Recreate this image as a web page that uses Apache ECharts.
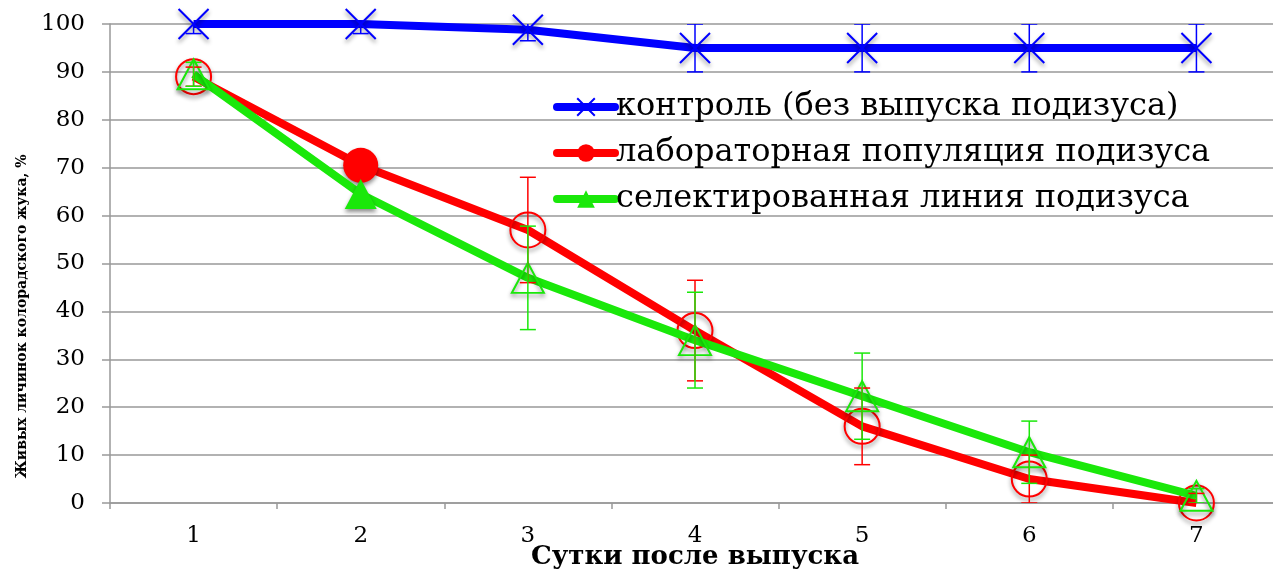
<!DOCTYPE html>
<html>
<head>
<meta charset="utf-8">
<script src="https://cdn.jsdelivr.net/npm/echarts@6/dist/echarts.min.js"></script>
<style>
  html, body { margin: 0; padding: 0; background: #fff; }
  #chart { width: 1273px; height: 573px; }
</style>
</head>
<body>
<div id="chart"></div>
<script>
// data
const days = ['1', '2', '3', '4', '5', '6', '7']
const seriesNames = [
  'контроль (без выпуска подизуса)',
  'лабораторная популяция подизуса',
  'селектированная линия подизуса'
]
const control = [100, 100, 98.8, 95, 95, 95, 95]
const controlErr = [2, 2, 2.3, 5, 5, 5, 5]
const lab = [89, 70.5, 57, 36, 16, 5, 0]
const labErr = [2, 0, 11, 10.5, 8, 5, 2]
const selected = [89.5, 64.5, 47, 34, 22.3, 10.6, 1.5]
const selectedErr = [2.5, 0, 10.8, 10, 9, 6.5, 1.5]
const filledPoint = 1 // only day 2 keeps the solid marker

const serif = 'DejaVu Serif'
const BLUE = '#0000ff'
const RED = '#ff0000'
const GREEN = '#1ae80a'

const markerShadow = {
  shadowColor: 'rgba(0,0,0,0.45)',
  shadowBlur: 4,
  shadowOffsetY: 3
}

function pointsWithHollow(values, color) {
  return values.map((v, i) => {
    if (i === filledPoint) return v
    return {
      value: v,
      itemStyle: { color: 'rgba(255,255,255,0)', borderColor: color, borderWidth: 2 }
    }
  })
}

function errorBars(name, values, errs, color) {
  return {
    type: 'custom',
    name: name + ' err',
    z: 5,
    clip: true,
    silent: true,
    data: values.map((v, i) => [i, v, errs[i]]),
    renderItem(params, api) {
      const e = api.value(2)
      if (!e) return
      const x = api.value(0)
      const y = api.value(1)
      const hi = api.coord([x, y + e])
      const lo = api.coord([x, y - e])
      const w = 8
      const style = { stroke: color, lineWidth: 1.5 }
      return {
        type: 'group',
        children: [
          { type: 'line', shape: { x1: hi[0], y1: hi[1], x2: lo[0], y2: lo[1] }, style },
          { type: 'line', shape: { x1: hi[0] - w, y1: hi[1], x2: hi[0] + w, y2: hi[1] }, style },
          { type: 'line', shape: { x1: lo[0] - w, y1: lo[1], x2: lo[0] + w, y2: lo[1] }, style }
        ]
      }
    }
  }
}

const chart = echarts.init(document.getElementById('chart'))
chart.setOption({
  animation: false,
  backgroundColor: '#fff',
  grid: { left: 110, right: -7, top: 24, bottom: 70, outerBoundsMode: 'none', containLabel: false },
  legend: {
    orient: 'vertical',
    left: 548,
    top: 86,
    itemWidth: 58,
    itemHeight: 22,
    itemGap: 14,
    lineStyle: { width: 8, cap: 'round' },
    textStyle: { fontFamily: serif, fontSize: 32, color: '#000', padding: [0, 0, 0, -4] },
    data: seriesNames
  },
  xAxis: {
    type: 'category',
    data: days,
    boundaryGap: true,
    name: 'Сутки после выпуска',
    nameLocation: 'middle',
    nameGap: 41,
    nameMoveOverlap: false,
    nameTextStyle: { fontFamily: serif, fontWeight: 'bold', fontSize: 26, color: '#000' },
    axisLine: { lineStyle: { color: '#999', width: 1.5 } },
    axisTick: { show: true, length: 6, lineStyle: { color: '#999', width: 1.5 } },
    axisLabel: { fontFamily: serif, fontSize: 23, color: '#000', margin: 22 }
  },
  yAxis: {
    type: 'value',
    min: 0,
    max: 100,
    interval: 10,
    name: 'Живых личинок колорадского жука, %',
    nameLocation: 'middle',
    nameGap: 81,
    nameMoveOverlap: false,
    nameTextStyle: { fontFamily: serif, fontWeight: 'bold', fontSize: 14, color: '#000', padding: [0, 106, 0, 0] },
    axisLine: { show: true, lineStyle: { color: '#999', width: 1.5 } },
    axisTick: { show: true, length: 8, lineStyle: { color: '#999', width: 1.5 } },
    axisLabel: { fontFamily: serif, fontSize: 23, color: '#000', margin: 25 },
    splitLine: { lineStyle: { color: '#999', width: 1.5 } }
  },
  series: [
    {
      name: seriesNames[0],
      type: 'line',
      data: control,
      symbol: 'path://M0,0L10,10M10,0L0,10',
      symbolSize: 30,
      lineStyle: { color: BLUE, width: 8 },
      itemStyle: Object.assign({ color: BLUE, borderColor: BLUE, borderWidth: 2 }, markerShadow),
      z: 2
    },
    {
      name: seriesNames[1],
      type: 'line',
      data: pointsWithHollow(lab, RED),
      symbol: 'circle',
      symbolSize: 35,
      lineStyle: { color: RED, width: 8 },
      itemStyle: Object.assign({ color: RED }, markerShadow),
      z: 3
    },
    {
      name: seriesNames[2],
      type: 'line',
      data: pointsWithHollow(selected, GREEN),
      symbol: 'triangle',
      symbolSize: [32, 30],
      lineStyle: { color: GREEN, width: 8 },
      itemStyle: Object.assign({ color: GREEN }, markerShadow),
      z: 4
    },
    errorBars(seriesNames[0], control, controlErr, BLUE),
    errorBars(seriesNames[1], lab, labErr, RED),
    errorBars(seriesNames[2], selected, selectedErr, GREEN)
  ]
})
</script>
</body>
</html>
